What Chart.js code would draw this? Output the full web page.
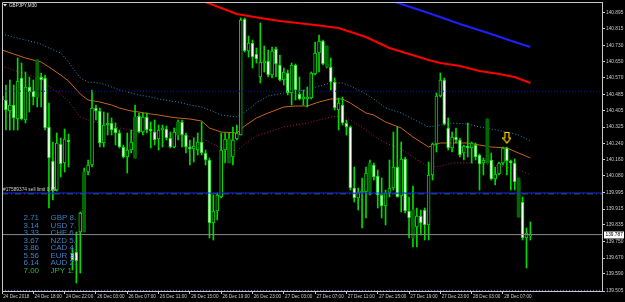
<!DOCTYPE html>
<html>
<head>
<meta charset="utf-8">
<script src="https://cdn.jsdelivr.net/npm/chart.js@4.4.1/dist/chart.umd.min.js"></script>
<style>
  html, body { margin: 0; padding: 0; background: #000; }
  canvas { display: block; }
</style>
</head>
<body>
<canvas id="chart" width="625" height="302"></canvas>
<script>
const symbolTitle = 'GBPJPY,M30';

// M30 bars, oldest first
const barOpen = [
  140.48, 140.46, 140.405, 140.435, 140.365, 140.57, 140.36, 140.525, 140.505, 140.475,
  140.575, 140.57, 140.325, 140.155, 140.01, 140.24, 140.145, 140.26, 139.695, 139.70,
  139.80, 139.895, 140.10, 140.135, 140.42, 140.405, 140.245, 140.335, 140.345, 140.32,
  140.295, 140.225, 140.175, 140.21, 140.26, 140.38, 140.30, 140.375, 140.315, 140.30,
  140.265, 140.31, 140.315, 140.27, 140.225, 140.285, 140.35, 140.285, 140.225, 140.215,
  140.21, 140.25, 140.195, 140.16, 139.845, 139.905, 139.975, 140.21, 140.265, 140.175,
  140.265, 140.285, 140.865, 140.705, 140.745, 140.69, 140.575, 140.645, 140.655, 140.585,
  140.715, 140.635, 140.56, 140.595, 140.495, 140.635, 140.49, 140.465, 140.465, 140.47,
  140.59, 140.695, 140.755, 140.64, 140.625, 140.55, 140.41, 140.435, 140.345, 140.325,
  140.02, 139.97, 139.995, 140.00, 140.095, 140.135, 140.08, 139.985, 139.93, 139.995,
  140.02, 140.125, 139.98, 140.165, 139.905, 139.87, 139.825, 139.88, 139.91, 139.835,
  140.085, 140.24, 140.48, 140.56, 140.32, 140.22, 140.275, 140.26, 140.195, 140.23,
  140.22, 140.235, 140.185, 140.145, 140.155, 140.16, 140.065, 140.09, 140.145, 140.22,
  140.155, 140.145, 140.05, 139.95, 139.77, 139.78
];
const barHigh = [
  140.535, 140.535, 140.56, 140.535, 140.67, 140.645, 140.60, 140.575, 140.56, 140.66,
  140.595, 140.585, 140.445, 140.25, 140.295, 140.27, 140.315, 140.29, 139.72, 139.80,
  139.90, 140.12, 140.16, 140.51, 140.435, 140.42, 140.40, 140.395, 140.37, 140.345,
  140.31, 140.235, 140.295, 140.31, 140.435, 140.395, 140.395, 140.395, 140.35, 140.36,
  140.335, 140.335, 140.33, 140.30, 140.32, 140.36, 140.36, 140.295, 140.26, 140.27,
  140.295, 140.35, 140.21, 140.17, 139.985, 139.995, 140.295, 140.295, 140.295, 140.325,
  140.335, 140.87, 140.87, 140.78, 140.76, 140.72, 140.845, 140.73, 140.71, 140.725,
  140.725, 140.685, 140.62, 140.61, 140.645, 140.64, 140.575, 140.51, 140.525, 140.60,
  140.75, 140.785, 140.76, 140.73, 140.67, 140.57, 140.47, 140.475, 140.36, 140.33,
  140.125, 140.02, 140.07, 140.125, 140.16, 140.145, 140.11, 140.07, 140.01, 140.16,
  140.30, 140.325, 140.25, 140.175, 139.975, 140.03, 139.92, 139.91, 139.92, 140.15,
  140.245, 140.495, 140.595, 140.57, 140.37, 140.30, 140.32, 140.27, 140.235, 140.345,
  140.25, 140.245, 140.19, 140.17, 140.365, 140.195, 140.125, 140.15, 140.225, 140.225,
  140.16, 140.165, 140.07, 139.975, 139.82, 139.85
];
const barLow = [
  140.36, 140.31, 140.31, 140.31, 140.31, 140.36, 140.345, 140.40, 140.435, 140.425,
  140.425, 140.31, 139.92, 139.96, 140.005, 140.075, 140.10, 140.125, 139.61, 139.545,
  139.595, 139.885, 140.085, 140.125, 140.36, 140.225, 140.225, 140.285, 140.285, 140.235,
  140.22, 140.17, 140.095, 140.195, 140.17, 140.295, 140.285, 140.295, 140.22, 140.235,
  140.21, 140.225, 140.26, 140.22, 140.22, 140.26, 140.225, 140.195, 140.135, 140.15,
  140.185, 140.185, 140.135, 139.77, 139.76, 139.86, 139.97, 140.145, 140.16, 140.135,
  140.26, 140.285, 140.70, 140.675, 140.62, 140.645, 140.545, 140.60, 140.575, 140.57,
  140.575, 140.555, 140.535, 140.485, 140.435, 140.46, 140.46, 140.435, 140.425, 140.465,
  140.585, 140.60, 140.635, 140.62, 140.51, 140.41, 140.31, 140.335, 140.285, 140.01,
  139.95, 139.91, 139.82, 139.87, 139.985, 140.06, 139.92, 139.87, 139.835, 139.975,
  140.01, 139.975, 139.90, 139.895, 139.77, 139.725, 139.725, 139.785, 139.76, 139.76,
  140.06, 140.20, 140.475, 140.335, 140.21, 140.20, 140.245, 140.175, 140.16, 140.175,
  140.145, 140.16, 140.01, 140.085, 140.145, 140.06, 140.035, 140.085, 140.135, 140.085,
  140.01, 140.01, 139.875, 139.76, 139.62, 139.76
];
const barClose = [
  140.46, 140.41, 140.435, 140.37, 140.555, 140.365, 140.525, 140.50, 140.475, 140.575,
  140.56, 140.32, 140.17, 140.01, 140.245, 140.14, 140.265, 140.25, 139.66, 139.655,
  139.895, 140.10, 140.135, 140.42, 140.405, 140.245, 140.335, 140.345, 140.31, 140.295,
  140.225, 140.175, 140.21, 140.25, 140.375, 140.30, 140.375, 140.31, 140.305, 140.26,
  140.31, 140.32, 140.27, 140.225, 140.30, 140.35, 140.285, 140.225, 140.215, 140.23,
  140.25, 140.195, 140.16, 139.845, 139.905, 139.985, 140.21, 140.265, 140.175, 140.26,
  140.295, 140.86, 140.705, 140.745, 140.675, 140.665, 140.65, 140.655, 140.585, 140.705,
  140.64, 140.56, 140.60, 140.495, 140.635, 140.51, 140.465, 140.475, 140.475, 140.595,
  140.695, 140.755, 140.64, 140.625, 140.55, 140.42, 140.445, 140.345, 140.325, 140.02,
  139.97, 140.00, 140.005, 140.095, 140.145, 140.075, 139.985, 139.93, 139.995, 140.02,
  140.125, 139.975, 140.165, 139.905, 139.87, 139.825, 139.88, 139.845, 139.835, 140.085,
  140.24, 140.48, 140.56, 140.34, 140.22, 140.275, 140.26, 140.185, 140.23, 140.22,
  140.245, 140.175, 140.14, 140.16, 140.17, 140.065, 140.09, 140.145, 140.22, 140.155,
  140.145, 140.05, 139.95, 139.77, 139.795, 139.787
];

// dark green overlay blocks (bar index, top, bottom)
const shadeBars = [9, 21, 34, 45, 58, 83, 94, 105, 124, 132];
const shadeTop = [140.66, 140.10, 140.375, 140.35, 140.265, 140.73, 140.145, 139.91, 140.365, 140.07];
const shadeBottom = [140.475, 139.80, 140.17, 140.285, 140.145, 140.625, 140.00, 139.77, 140.145, 139.875];

// moving average envelope, sampled at these bars
const bandBars = [0, 3, 6, 10, 12, 15, 17, 20, 22, 25, 28, 30, 33, 35, 38, 40, 43, 45, 48, 51, 53, 56, 60, 62,
  65, 68, 72, 75, 78, 81, 84, 87, 89, 93, 95, 98, 102, 105, 109, 112, 115, 119, 122, 125, 129, 132, 135];
const upperBand = [140.79, 140.775, 140.76, 140.74, 140.72, 140.695, 140.65, 140.57, 140.55, 140.545, 140.525,
  140.51, 140.495, 140.485, 140.475, 140.465, 140.455, 140.45, 140.435, 140.425, 140.41, 140.385, 140.375, 140.40,
  140.445, 140.48, 140.495, 140.505, 140.51, 140.53, 140.545, 140.545, 140.53, 140.49, 140.465, 140.42, 140.395,
  140.365, 140.325, 140.335, 140.345, 140.34, 140.325, 140.315, 140.30, 140.285, 140.255];
const middleBand = [140.71, 140.69, 140.67, 140.65, 140.625, 140.585, 140.555, 140.49, 140.46, 140.45, 140.435,
  140.42, 140.405, 140.40, 140.39, 140.385, 140.375, 140.37, 140.365, 140.355, 140.32, 140.30, 140.295, 140.33,
  140.37, 140.395, 140.425, 140.43, 140.43, 140.45, 140.465, 140.465, 140.445, 140.395, 140.385, 140.35, 140.32,
  140.275, 140.225, 140.245, 140.245, 140.245, 140.235, 140.225, 140.22, 140.195, 140.17];
const lowerBand = [140.63, 140.61, 140.59, 140.565, 140.525, 140.49, 140.455, 140.375, 140.36, 140.345, 140.33,
  140.32, 140.31, 140.30, 140.30, 140.295, 140.29, 140.285, 140.275, 140.27, 140.25, 140.22, 140.205, 140.24,
  140.28, 140.30, 140.325, 140.335, 140.345, 140.36, 140.375, 140.38, 140.36, 140.31, 140.28, 140.245, 140.215,
  140.175, 140.125, 140.13, 140.145, 140.145, 140.145, 140.135, 140.125, 140.11, 140.085];

// slow moving averages
const redMaBars = [48, 52, 56, 60, 66, 71, 80, 86, 93, 99, 104, 109, 112, 117, 122, 127, 131, 135];
const redMa = [140.975, 140.95, 140.92, 140.89, 140.87, 140.855, 140.835, 140.82, 140.775, 140.72, 140.69,
  140.66, 140.645, 140.63, 140.605, 140.59, 140.575, 140.545];
const blueMaBars = [97, 102, 109, 117, 125, 131, 135];
const blueMa = [140.97, 140.94, 140.895, 140.84, 140.79, 140.75, 140.725];

// horizontal levels
const dottedLevel = 140.504;
const blueLevel = 139.995;
const sellLimitPrice = 139.991;
const sellLimitLabel = '#17589374 sell limit 0.01';
const bidPrice = 139.787;
const bottomLevel = 139.508;

const arrowBar = 129;
const arrowPrice = 140.27;

const yTickValues = [140.895, 140.815, 140.730, 140.650, 140.570, 140.485, 140.405, 140.325, 140.240,
  140.160, 140.080, 139.995, 139.915, 139.835, 139.750, 139.670, 139.590, 139.505];
const xTickBars = [0, 8, 16, 24, 32, 40, 48, 56, 64, 72, 80, 88, 96, 104, 112, 120, 128];
const xTickLabels = ['24 Dec 2018', '24 Dec 18:00', '24 Dec 22:00', '26 Dec 03:00', '26 Dec 07:00',
  '26 Dec 11:00', '26 Dec 15:00', '26 Dec 19:00', '26 Dec 23:00', '27 Dec 03:00', '27 Dec 07:00',
  '27 Dec 11:00', '27 Dec 15:00', '27 Dec 19:00', '27 Dec 23:00', '28 Dec 03:00', '28 Dec 07:00'];

const strength = ['2.71', '3.14', '3.33', '3.67', '3.86', '5.56', '6.14', '7.00'];
const currencies = ['GBP', 'USD', 'CHF', 'NZD', 'CAD', 'EUR', 'AUD', 'JPY'];
const ranks = [8, 7, 6, 5, 4, 3, 2, 1];

const X_MAX = 153.3;
const CANDLE = '#00dc00';
const AXIS = '#c8c8c8';
const FONT = 'Liberation Sans';

const wickData = barHigh.map((h, i) => ({ x: i, y: [barLow[i], h] }));
const bodyData = barOpen.map((o, i) => ({ x: i, y: [o, barClose[i]] }));
const shadeData = shadeBars.map((b, i) => ({ x: b, y: [shadeBottom[i], shadeTop[i]] }));
const toPoints = (bars, vals) => bars.map((b, i) => ({ x: b, y: vals[i] }));
const level = v => [{ x: 0, y: v }, { x: X_MAX, y: v }];

function arrowIcon() {
  const c = document.createElement('canvas');
  c.width = 9;
  c.height = 12;
  const g = c.getContext('2d');
  g.strokeStyle = '#ffd700';
  g.lineWidth = 1.2;
  g.beginPath();
  g.moveTo(2.5, 0.5); g.lineTo(6.5, 0.5); g.lineTo(6.5, 6); g.lineTo(8.5, 6);
  g.lineTo(4.5, 11); g.lineTo(0.5, 6); g.lineTo(2.5, 6); g.closePath();
  g.stroke();
  return c;
}

function hline(v, color, dash, order) {
  return {
    type: 'line', data: level(v), borderColor: color, borderWidth: 1,
    borderDash: dash, pointRadius: 0, order
  };
}

function band(vals, color, dash) {
  return {
    type: 'line', data: toPoints(bandBars, vals), borderColor: color, borderWidth: 1,
    borderDash: dash, pointRadius: 0, order: 5
  };
}

// pin the plot box: the scales would otherwise ask for label padding
function pinX(s) {
  s.height = 11;
  s.paddingLeft = 0;
  s.paddingRight = 0;
}
function pinY(s) {
  s.width = 23;
  s.paddingTop = 0;
  s.paddingBottom = 0;
}

const blackBackground = {
  id: 'blackBackground',
  beforeDraw(chart) {
    const { ctx, width, height } = chart;
    ctx.save();
    ctx.fillStyle = '#000';
    ctx.fillRect(0, 0, width, height);
    ctx.restore();
  }
};

const terminalText = {
  id: 'terminalText',
  afterDraw(chart) {
    const { ctx, chartArea: area, scales: { y } } = chart;
    ctx.save();

    ctx.strokeStyle = AXIS;
    ctx.lineWidth = 1;
    ctx.beginPath();
    ctx.moveTo(area.left + 0.5, area.bottom);
    ctx.lineTo(area.left + 0.5, area.top + 0.5);
    ctx.lineTo(area.right, area.top + 0.5);
    ctx.stroke();

    // title
    ctx.fillStyle = '#e0e0e0';
    ctx.beginPath();
    ctx.moveTo(3, 4); ctx.lineTo(7, 4); ctx.lineTo(5, 6.5); ctx.closePath();
    ctx.fill();
    ctx.font = '4.6px ' + FONT;
    ctx.textBaseline = 'middle';
    ctx.textAlign = 'left';
    ctx.fillText(symbolTitle, 9, 5.5);

    // pending order label
    ctx.fillStyle = '#d0d0d0';
    ctx.font = '4.8px ' + FONT;
    ctx.fillText(sellLimitLabel, area.left + 1, y.getPixelForValue(sellLimitPrice) - 4);

    // currency strength table
    ctx.font = '8px ' + FONT;
    strength.forEach((s, i) => {
      const ty = 218 + i * 7.5;
      ctx.fillStyle = i === strength.length - 1 ? '#2fb82f' : '#3f7fc0';
      ctx.fillText(s, 23.5, ty);
      ctx.fillText(currencies[i] + ' ' + ranks[i] + '.', 50.5, ty);
    });

    // bid box on the price axis
    const by = Math.round(y.getPixelForValue(bidPrice));
    ctx.fillStyle = '#ffffff';
    ctx.fillRect(area.right + 2, by - 3.5, 20, 7);
    ctx.fillStyle = '#000000';
    ctx.font = '4.8px ' + FONT;
    ctx.fillText(bidPrice.toFixed(3), area.right + 3.5, by);
    ctx.restore();
  }
};

new Chart(document.getElementById('chart'), {
  type: 'bar',
  data: {
    datasets: [
      hline(dottedLevel, '#1010c8', [1, 2], -1),
      hline(blueLevel, '#1e1eff', [], -1),
      hline(sellLimitPrice, '#1f8a1f', [6, 3, 1, 3], -1),
      hline(bidPrice, '#8a8a8a', [], -1),
      hline(bottomLevel, '#6a5ad0', [1, 2], -1),
      {
        type: 'line', data: [{ x: arrowBar, y: arrowPrice }], pointStyle: arrowIcon(),
        pointRadius: 6, showLine: false, order: -2
      },
      {
        type: 'bar', data: shadeData, backgroundColor: '#006a00', barThickness: 3,
        grouped: false, order: 0
      },
      {
        type: 'bar', data: bodyData, grouped: false, barThickness: 3, minBarLength: 1,
        borderWidth: 1, borderSkipped: false, borderColor: CANDLE,
        backgroundColor: c => (barClose[c.dataIndex] >= barOpen[c.dataIndex] ? '#000000' : '#ffffff'),
        order: 1
      },
      {
        type: 'bar', data: wickData, grouped: false, barThickness: 1,
        backgroundColor: CANDLE, order: 2
      },
      band(upperBand, '#2a8cc0', [1, 2]),
      band(middleBand, '#c8641e', []),
      band(lowerBand, '#b0145a', [1, 2]),
      {
        type: 'line', data: toPoints(redMaBars, redMa), borderColor: '#ff0000', borderWidth: 2,
        pointRadius: 0, order: 6
      },
      {
        type: 'line', data: toPoints(blueMaBars, blueMa), borderColor: '#1e1eff', borderWidth: 2,
        pointRadius: 0, order: 6
      }
    ]
  },
  options: {
    responsive: false,
    animation: false,
    devicePixelRatio: 1,
    layout: { autoPadding: false, padding: { left: 2, top: 2, right: 0, bottom: 0 } },
    plugins: { legend: { display: false }, tooltip: { enabled: false } },
    scales: {
      x: {
        type: 'linear', position: 'bottom', min: 0, max: X_MAX, offset: false,
        afterBuildTicks: s => { s.ticks = xTickBars.map(v => ({ value: v })); },
        afterFit: pinX,
        ticks: {
          autoSkip: false, maxRotation: 0, align: 'start', padding: 0,
          color: AXIS, font: { family: FONT, size: 4.6 },
          callback: (v, i) => ' ' + xTickLabels[i]
        },
        grid: { offset: false, drawOnChartArea: false, tickLength: 3, color: AXIS },
        border: { color: AXIS }
      },
      y: {
        type: 'linear', position: 'right', min: 139.505, max: 140.95,
        afterBuildTicks: s => { s.ticks = yTickValues.map(v => ({ value: v })); },
        afterFit: pinY,
        ticks: {
          autoSkip: false, padding: 1, color: AXIS,
          font: { family: FONT, size: 4.8 },
          callback: v => v.toFixed(3)
        },
        grid: { drawOnChartArea: false, tickLength: 3, color: AXIS },
        border: { color: AXIS }
      }
    }
  },
  plugins: [blackBackground, terminalText]
});
</script>
</body>
</html>
